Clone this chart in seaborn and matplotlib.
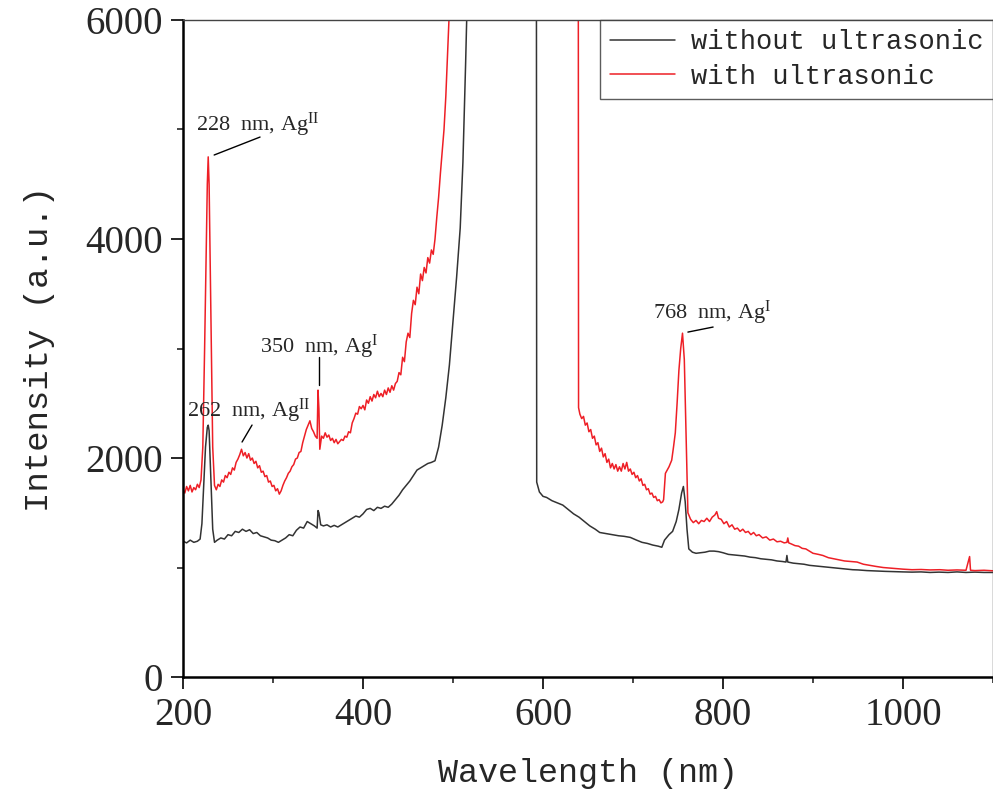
import numpy as np
import pandas as pd
import matplotlib
matplotlib.use("Agg")
import matplotlib.pyplot as plt
from matplotlib.lines import Line2D
from matplotlib.ticker import MultipleLocator
import seaborn as sns

# ---------------- data ----------------
wl_without = [200, 204, 208, 212, 216, 219, 221, 223, 225, 227, 228, 229, 231, 233, 235, 238, 242, 246, 250, 254,
              258, 262, 266, 270, 274, 278, 282, 286, 290, 294, 298, 302, 306, 310, 314, 318, 322, 326, 330, 334,
              338, 342, 346, 349, 350, 351, 353, 356, 360, 364, 368, 372, 376, 380, 384, 388, 392, 396, 400, 404,
              408, 412, 416, 420, 424, 428, 432, 436, 440, 444, 448, 452, 456, 460, 464, 468, 472, 476, 480, 484,
              488, 492, 496, 500, 504, 508, 511, 514, 517, 521, 560, 592.5, 593, 596, 600, 604, 610, 616, 622, 628,
              634, 640, 646, 652, 658, 663, 670, 677, 684, 690, 697, 704, 710, 716, 722, 728, 732, 735, 740, 744,
              748, 751, 754, 756, 758, 760, 762, 766, 770, 775, 780, 785, 790, 795, 800, 806, 812, 818, 824, 830,
              836, 842, 848, 854, 860, 866, 870, 871, 872, 878, 884, 890, 896, 902, 908, 914, 920, 926, 932, 938,
              944, 950, 960, 970, 980, 990, 1000, 1010, 1020, 1030, 1040, 1050, 1060, 1070, 1080, 1090, 1100]
int_without = [1240, 1225, 1250, 1230, 1240, 1260, 1400, 1750, 2100, 2280, 2300, 2250, 1800, 1350, 1230, 1250, 1270, 1260, 1300, 1290,
               1330, 1320, 1350, 1330, 1345, 1310, 1320, 1290, 1280, 1270, 1250, 1245, 1230, 1250, 1270, 1300, 1290, 1340, 1370, 1360,
               1420, 1400, 1380, 1360, 1520, 1500, 1390, 1380, 1390, 1370, 1385, 1370, 1390, 1410, 1430, 1450, 1470, 1460, 1490, 1530,
               1540, 1520, 1550, 1540, 1560, 1550, 1580, 1620, 1660, 1710, 1750, 1790, 1840, 1890, 1910, 1930, 1950, 1960, 1975, 2100,
               2300, 2550, 2850, 3250, 3650, 4100, 4700, 5600, 6600, 7500, 9000, 9000, 1780, 1690, 1650, 1640, 1610, 1590, 1570, 1530,
               1490, 1460, 1420, 1380, 1350, 1320, 1310, 1300, 1290, 1285, 1275, 1250, 1230, 1220, 1205, 1195, 1185, 1250, 1300, 1330,
               1420, 1530, 1680, 1740, 1600, 1350, 1170, 1140, 1130, 1135, 1140, 1150, 1150, 1145, 1135, 1120, 1115, 1110, 1105, 1095,
               1090, 1080, 1075, 1070, 1060, 1055, 1050, 1110, 1050, 1040, 1035, 1030, 1020, 1015, 1010, 1005, 1000, 995, 990, 985,
               980, 978, 972, 968, 965, 962, 960, 958, 960, 955, 958, 955, 960, 955, 958, 955, 955]

wl_with = [200, 202, 204, 206, 208, 210, 212, 214, 216, 218, 220, 222, 224, 226, 227, 228, 229, 231, 233, 235,
           237, 239, 241, 243, 245, 247, 249, 251, 253, 255, 257, 259, 261, 263, 265, 267, 269, 271, 273, 275,
           277, 279, 281, 283, 285, 287, 289, 291, 293, 295, 297, 299, 301, 303, 305, 307, 309, 311, 313, 315,
           317, 319, 321, 323, 325, 327, 329, 331, 333, 335, 337, 339, 341, 343, 345, 347, 349, 350, 351, 352,
           354, 356, 358, 360, 362, 364, 366, 368, 370, 372, 374, 376, 378, 380, 382, 384, 386, 388, 390, 392,
           394, 396, 398, 400, 402, 404, 406, 408, 410, 412, 414, 416, 418, 420, 422, 424, 426, 428, 430, 432,
           434, 436, 438, 440, 442, 444, 446, 448, 450, 452, 454, 456, 458, 460, 462, 464, 466, 468, 470, 472,
           474, 476, 478, 480, 482, 484, 486, 488, 490, 492, 494, 496, 499, 560, 639, 639.5, 641, 643, 645, 647,
           649, 651, 653, 655, 657, 659, 661, 663, 665, 667, 669, 671, 673, 675, 677, 679, 681, 683, 685, 687,
           689, 691, 693, 695, 697, 699, 701, 703, 705, 707, 709, 711, 713, 715, 717, 719, 721, 723, 725, 727,
           729, 731, 733, 734, 736, 740, 743, 745, 747, 749, 751, 753, 755, 757, 759, 761, 764, 767, 770, 773,
           776, 779, 782, 785, 788, 791, 793, 795, 798, 801, 804, 807, 810, 813, 816, 819, 822, 825, 828, 831,
           834, 837, 840, 844, 848, 852, 856, 860, 864, 868, 871, 872, 873, 876, 880, 884, 888, 892, 896, 900,
           906, 911, 917, 923, 929, 935, 942, 949, 956, 963, 970, 978, 985, 992, 1000, 1010, 1020, 1030, 1041, 1050,
           1060, 1070, 1074, 1075, 1080, 1090, 1100]
int_with = [1710, 1680, 1740, 1700, 1750, 1690, 1730, 1710, 1760, 1730, 1800, 2100, 3000, 4000, 4500, 4750, 4500, 3300, 2100, 1750,
            1710, 1760, 1740, 1800, 1780, 1840, 1820, 1870, 1850, 1910, 1890, 1960, 1990, 2030, 2080, 2020, 2050, 2000, 2040, 1980,
            2000, 1950, 1970, 1910, 1930, 1870, 1880, 1830, 1840, 1780, 1790, 1740, 1750, 1700, 1720, 1670, 1700, 1750, 1790, 1820,
            1860, 1880, 1920, 1940, 1990, 2000, 2050, 2060, 2140, 2200, 2260, 2300, 2340, 2270, 2240, 2200, 2180, 2620, 2450, 2080,
            2200, 2180, 2230, 2190, 2210, 2160, 2180, 2140, 2170, 2130, 2150, 2170, 2160, 2200, 2190, 2240, 2230, 2320, 2360, 2410,
            2400, 2470, 2450, 2480, 2440, 2530, 2500, 2560, 2520, 2580, 2550, 2610, 2560, 2590, 2560, 2620, 2580, 2640, 2600, 2660,
            2620, 2680, 2700, 2780, 2760, 2920, 2880, 3060, 3140, 3100, 3320, 3440, 3400, 3560, 3500, 3680, 3620, 3740, 3690, 3830,
            3780, 3900, 3860, 4000, 4200, 4380, 4600, 4800, 5000, 5300, 5700, 6100, 7000, 9500, 9500, 2460, 2400, 2360, 2380, 2300,
            2320, 2240, 2260, 2180, 2200, 2120, 2140, 2060, 2090, 2010, 2040, 1960, 1990, 1910, 1950, 1900, 1940, 1880, 1920, 1880,
            1950, 1900, 1960, 1880, 1900, 1850, 1870, 1820, 1840, 1790, 1810, 1750, 1760, 1710, 1720, 1670, 1680, 1640, 1650, 1610,
            1620, 1590, 1600, 1620, 1860, 1920, 1980, 2100, 2230, 2500, 2800, 3000, 3140, 2900, 2200, 1500, 1440, 1410, 1430, 1400,
            1430, 1420, 1450, 1420, 1460, 1480, 1510, 1450, 1440, 1400, 1420, 1370, 1390, 1350, 1360, 1330, 1350, 1320, 1330, 1300,
            1320, 1290, 1300, 1270, 1280, 1250, 1260, 1235, 1240, 1225, 1230, 1270, 1225, 1215, 1200, 1195, 1175, 1170, 1150, 1130,
            1120, 1110, 1090, 1080, 1070, 1060, 1055, 1050, 1030, 1020, 1010, 1000, 995, 990, 985, 980, 982, 978, 980, 975,
            978, 975, 1100, 975, 972, 975, 970]

series_names = ["without ultrasonic", "with ultrasonic"]
series_colors = ["#333333", "#ee1f26"]

annotations = ["228  nm, Ag$^{\\mathrm{II}}$", "262  nm, Ag$^{\\mathrm{II}}$",
               "350  nm, Ag$^{\\mathrm{I}}$", "768  nm, Ag$^{\\mathrm{I}}$"]
x_ticks = [200, 400, 600, 800, 1000]
y_ticks = [0, 2000, 4000, 6000]

# ---------------- styling ----------------
sns.set_style("ticks")
plt.rcParams["font.family"] = ["Liberation Serif", "DejaVu Serif"]
plt.rcParams["mathtext.fontset"] = "custom"
plt.rcParams["mathtext.rm"] = "Liberation Serif"
plt.rcParams["mathtext.it"] = "Liberation Serif:italic"

df = pd.concat([
    pd.DataFrame({"Wavelength": wl_without, "Intensity": int_without, "series": series_names[0]}),
    pd.DataFrame({"Wavelength": wl_with, "Intensity": int_with, "series": series_names[1]}),
], ignore_index=True)

fig = plt.figure(figsize=(9.93, 7.90), dpi=100)
ax = fig.add_axes([0.1843, 0.1430, 0.8157, 0.8317])

sns.lineplot(data=df, x="Wavelength", y="Intensity", hue="series",
             palette=dict(zip(series_names, series_colors)),
             estimator=None, sort=False, linewidth=1.1, ax=ax, legend=False)

ax.set_xlim(200, 1100)
ax.set_ylim(0, 6000)
ax.set_xticks(x_ticks)
ax.set_yticks(y_ticks)
ax.xaxis.set_minor_locator(MultipleLocator(100))
ax.yaxis.set_minor_locator(MultipleLocator(1000))
ax.tick_params(which="major", direction="out", length=8.5, width=1.4, labelsize=28, pad=6)
ax.tick_params(which="minor", direction="out", length=4.3, width=1.2)
for lab in ax.get_xticklabels() + ax.get_yticklabels():
    lab.set_fontfamily(["Liberation Serif"])

for side in ["left", "bottom"]:
    ax.spines[side].set_linewidth(1.8)
    ax.spines[side].set_color("black")
for side in ["top", "right"]:
    ax.spines[side].set_visible(True)
    ax.spines[side].set_linewidth(1.0)
    ax.spines[side].set_color("#444444")

mono = ["Liberation Mono", "DejaVu Sans Mono"]
ax.set_xlabel("Wavelength (nm)", fontsize=24, family=mono, labelpad=17)
ax.set_ylabel("Intensity (a.u.)", fontsize=24.5, family=mono, labelpad=22)

handles = [Line2D([0], [0], color=c, lw=1.1) for c in series_colors]
leg = ax.legend(handles, series_names, loc="upper right", bbox_to_anchor=(1.0, 1.0),
                borderaxespad=0.0, frameon=True, fancybox=False, edgecolor="#333333",
                prop={"family": mono, "size": 19.5}, handlelength=2.4, handletextpad=0.6,
                labelspacing=0.3, borderpad=0.35)
leg.get_frame().set_linewidth(1.0)

# annotations: text + leader line
ann_font = dict(fontsize=16, family=["Liberation Serif"], va="center", ha="left")
ax.text(214, 5040, annotations[0], **ann_font)
ax.plot([234.6, 285.6], [4767, 4931], color="black", lw=1.0)
ax.text(204, 2430, annotations[1], **ann_font)
ax.plot([265.6, 276.7], [2146, 2301], color="black", lw=1.0)
ax.text(285.6, 3014, annotations[2], **ann_font)
ax.plot([351, 351], [2922, 2667], color="black", lw=1.0)
ax.text(722, 3324, annotations[3], **ann_font)
ax.plot([761, 789], [3150, 3196], color="black", lw=1.0)

fig.savefig("out.png", dpi=100)
